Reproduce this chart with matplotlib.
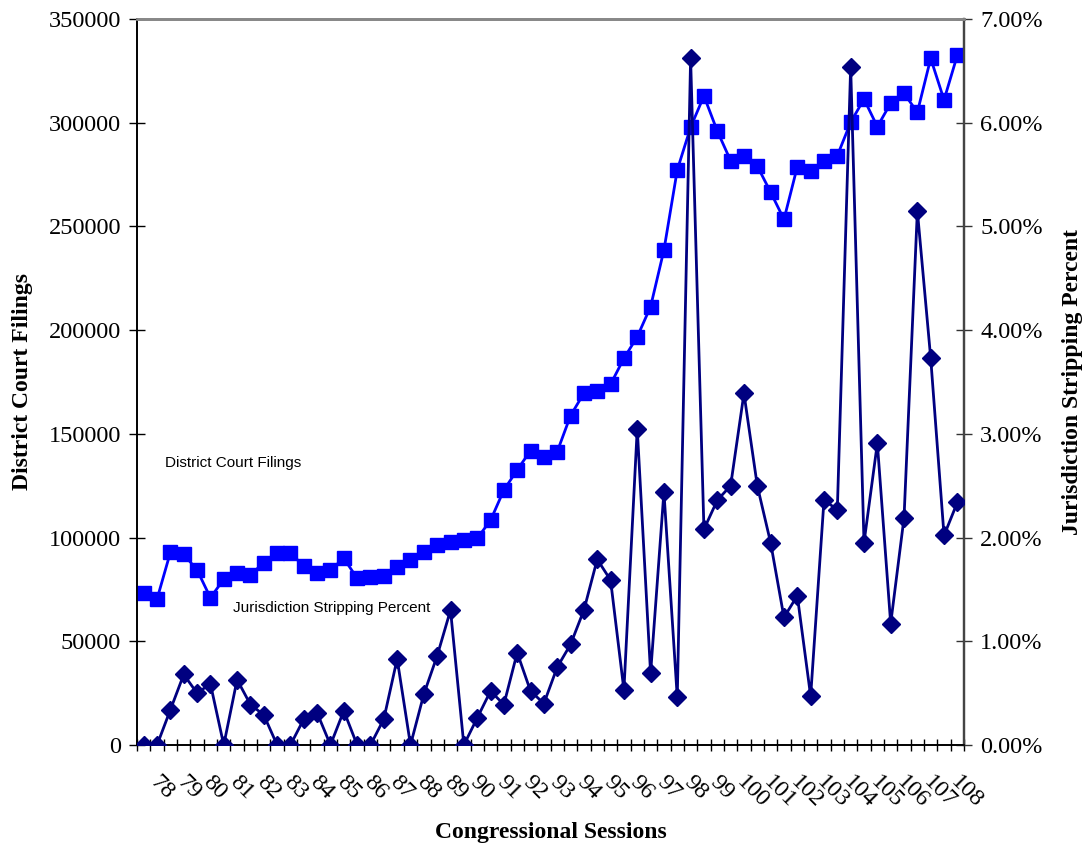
import matplotlib
matplotlib.use("Agg")
import matplotlib.pyplot as plt
import matplotlib.transforms as mtransforms
from matplotlib.ticker import FuncFormatter, MultipleLocator

# congress numbers shown on every second category
congress = list(range(78, 109))

# district court filings, one value per session (62)
filings = [
    73400, 70400, 92900, 91900, 84400, 71000, 79900, 82800, 82000, 87900,
    92400, 92400, 86400, 83100, 84400, 90000, 80400, 80800, 81500, 86000,
    89200, 92900, 96400, 98000, 98800, 99600, 108300, 122900, 132600, 141900,
    139000, 141400, 158800, 169600, 170700, 173900, 186400, 196800, 211300, 238600,
    277200, 297800, 312900, 296000, 281700, 284000, 279100, 266500, 253400, 278800,
    276700, 281700, 284100, 300200, 311400, 298100, 309400, 314200, 305000, 331000,
    311000, 332600,
]

# jurisdiction stripping percent (in %)
strip_pct = [
    0.0, 0.0, 0.34, 0.68, 0.50, 0.59, 0.0, 0.63, 0.39, 0.29,
    0.0, 0.0, 0.25, 0.31, 0.0, 0.33, 0.0, 0.0, 0.25, 0.83,
    0.0, 0.49, 0.86, 1.30, 0.0, 0.26, 0.52, 0.39, 0.89, 0.52,
    0.40, 0.75, 0.97, 1.30, 1.79, 1.59, 0.53, 3.05, 0.69, 2.44,
    0.46, 6.62, 2.08, 2.36, 2.50, 3.39, 2.50, 1.95, 1.23, 1.44,
    0.47, 2.36, 2.27, 6.54, 1.95, 2.91, 1.17, 2.19, 5.15, 3.73,
    2.02, 2.34,
]

serif = "Liberation Serif"
sans = "Liberation Sans"
tick_fs = 17.5
label_fs = 17

fig = plt.figure(figsize=(10.86, 8.44), dpi=100)
ax1 = fig.add_axes([0.1262, 0.1173, 0.7615, 0.8602])
ax2 = ax1.twinx()

x = list(range(len(filings)))

ax1.plot(x, filings, color="#0000FF", lw=2, marker="s", markersize=9.5,
         markerfacecolor="#0000FF", markeredgecolor="#0000FF", zorder=3)
ax2.plot(x, strip_pct, color="#000080", lw=2, marker="D", markersize=9,
         markerfacecolor="#000080", markeredgecolor="#000080", zorder=3)

ax1.set_xlim(-0.5, len(x) - 0.5)
ax1.set_ylim(0, 350000)
ax2.set_ylim(0, 7)
ax1.yaxis.set_major_locator(MultipleLocator(50000))
ax2.yaxis.set_major_locator(MultipleLocator(1))
ax2.yaxis.set_major_formatter(FuncFormatter(lambda v, p: "%.2f%%" % v))

# category labels every second session
ax1.set_xticks(list(range(0, len(x), 2)))
ax1.set_xticklabels([str(c) for c in congress], rotation=-45, ha="left",
                    va="top", fontfamily=serif, fontsize=tick_fs)
ax1.tick_params(axis="x", which="major", length=0, pad=19)
ax1.set_xticks([i + 0.5 for i in range(-1, len(x))], minor=True)
ax1.tick_params(axis="x", which="minor", direction="inout", length=9,
                width=1, color="black")
shift = mtransforms.ScaledTranslation(2 / 100, 0, fig.dpi_scale_trans)
for lab in ax1.get_xticklabels():
    lab.set_transform(lab.get_transform() + shift)

ax1.tick_params(axis="y", direction="inout", length=11, width=1, pad=6)
ax2.tick_params(axis="y", direction="inout", length=11, width=1, pad=6,
                color="#333333")
for lab in ax1.get_yticklabels() + ax2.get_yticklabels():
    lab.set_fontfamily(serif)
    lab.set_fontsize(tick_fs)

for ax in (ax1, ax2):
    ax.spines["top"].set_color("#888888")
    ax.spines["top"].set_linewidth(2)
    ax.spines["left"].set_color("black")
    ax.spines["left"].set_linewidth(1.2)
    ax.spines["bottom"].set_color("black")
    ax.spines["bottom"].set_linewidth(1.2)
    ax.spines["right"].set_color("#444444")
    ax.spines["right"].set_linewidth(1.6)

ax1.set_ylabel("District Court Filings", fontfamily=serif, fontsize=label_fs,
               fontweight="bold")
ax1.yaxis.set_label_coords(-0.126, 0.5)
ax2.set_ylabel("Jurisdiction Stripping Percent", fontfamily=serif,
               fontsize=label_fs, fontweight="bold", rotation=90)
ax2.yaxis.set_label_coords(1.1185, 0.5)
ax1.set_xlabel("Congressional Sessions", fontfamily=serif, fontsize=label_fs,
               fontweight="bold")
ax1.xaxis.set_label_coords(0.5, -0.106)

ax1.text(1.6, 136100, "District Court Filings", fontfamily=sans,
         fontsize=11, va="center", ha="left")
ax1.text(6.7, 65900, "Jurisdiction Stripping Percent", fontfamily=sans,
         fontsize=11, va="center", ha="left")

fig.savefig("out.png", dpi=100)
